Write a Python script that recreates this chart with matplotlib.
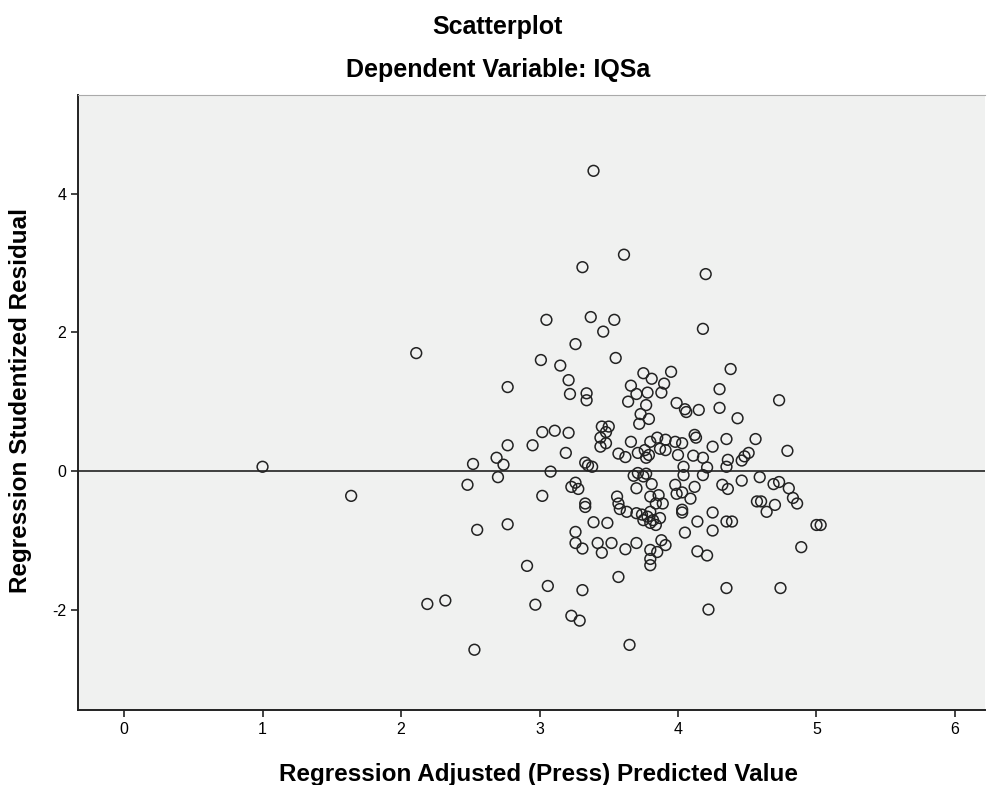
import matplotlib
matplotlib.use("Agg")
import matplotlib.pyplot as plt

plt.rcParams['font.family'] = ['Liberation Sans', 'DejaVu Sans']
plt.rcParams['axes.unicode_minus'] = False

# Regression Adjusted (Press) Predicted Value vs Regression Studentized Residual
pred = [
    1.00, 1.64, 2.11, 2.52, 2.48, 2.69, 2.74, 2.70, 2.77, 2.77, 2.55, 2.77, 2.19, 2.32, 2.53,
    3.39, 3.31, 3.61, 4.20, 3.05, 3.37, 3.54, 3.46, 4.18, 3.26,
    3.01, 3.15, 3.21, 3.22, 3.34, 3.34, 3.02, 3.11, 3.21, 2.95, 3.19, 3.33, 3.35, 3.08,
    3.26, 3.23, 3.28, 3.02, 3.33, 3.33, 3.26, 3.26, 3.31, 2.91, 3.06, 3.31, 2.97, 3.23, 3.29,
    3.65,
    3.55, 3.75, 3.81, 3.95, 3.66, 3.70, 3.78, 3.90, 3.88, 3.64, 3.77, 3.73, 3.79, 3.72,
    3.45, 3.50, 3.48, 3.44, 3.48, 3.44, 3.66, 3.80, 3.85, 3.91, 3.57, 3.62, 3.71, 3.76,
    3.79, 3.77, 3.87, 3.91, 3.38, 3.71, 3.77,
    3.68, 3.75, 3.81, 3.70, 3.56, 3.57, 3.58, 3.63, 3.80, 3.86, 3.89, 3.84, 3.70, 3.74,
    3.78, 3.80, 3.75, 3.82, 3.84, 3.80, 3.87, 3.39, 3.49, 3.88, 3.91, 3.42, 3.45, 3.52,
    3.62, 3.70, 3.80, 3.85, 3.80, 3.80, 3.57,
    4.38, 4.30, 3.99, 4.05, 4.06, 4.15, 4.30, 4.43, 4.12, 4.13, 4.35, 4.56, 4.03, 4.00,
    4.11, 4.25, 4.18, 4.36, 4.51, 4.48, 4.46, 4.04, 4.21, 4.35, 3.98,
    4.04, 3.98, 3.99, 4.03, 4.12, 4.18, 4.32, 4.36, 4.46, 4.09, 4.03, 4.03, 4.25, 4.14,
    4.25, 4.35, 4.39, 4.05, 4.14, 4.21, 4.35, 4.22, 4.57,
    4.73, 4.79, 4.59, 4.73, 4.69, 4.80, 4.83, 4.86, 4.60, 4.70, 4.64, 5.00, 5.03, 4.89, 4.74,
]
resid = [
    0.06, -0.36, 1.70, 0.10, -0.20, 0.19, 0.09, -0.09, 1.21, 0.37, -0.85, -0.77, -1.92, -1.87, -2.58,
    4.33, 2.94, 3.12, 2.84, 2.18, 2.22, 2.18, 2.01, 2.05, 1.83,
    1.60, 1.52, 1.31, 1.11, 1.12, 1.02, 0.56, 0.58, 0.55, 0.37, 0.26, 0.12, 0.08, -0.01,
    -0.17, -0.23, -0.26, -0.36, -0.47, -0.52, -0.88, -1.04, -1.12, -1.37, -1.66, -1.72, -1.93, -2.09, -2.16,
    -2.51,
    1.63, 1.41, 1.33, 1.43, 1.23, 1.11, 1.13, 1.26, 1.13, 1.00, 0.95, 0.82, 0.75, 0.68,
    0.64, 0.64, 0.56, 0.48, 0.40, 0.35, 0.42, 0.42, 0.48, 0.45, 0.25, 0.20, 0.26, 0.30,
    0.23, 0.19, 0.32, 0.30, 0.06, -0.03, -0.04,
    -0.07, -0.08, -0.19, -0.25, -0.37, -0.47, -0.55, -0.59, -0.37, -0.35, -0.47, -0.47, -0.61, -0.63,
    -0.66, -0.59, -0.71, -0.71, -0.78, -0.75, -0.68, -0.74, -0.75, -1.00, -1.07, -1.04, -1.18, -1.04,
    -1.13, -1.04, -1.14, -1.17, -1.27, -1.36, -1.53,
    1.47, 1.18, 0.98, 0.89, 0.85, 0.88, 0.91, 0.76, 0.52, 0.48, 0.46, 0.46, 0.40, 0.23,
    0.22, 0.35, 0.19, 0.16, 0.26, 0.21, 0.15, 0.06, 0.05, 0.06, 0.42,
    -0.06, -0.20, -0.33, -0.31, -0.23, -0.06, -0.20, -0.26, -0.14, -0.40, -0.56, -0.60, -0.60, -0.73,
    -0.86, -0.73, -0.73, -0.89, -1.16, -1.22, -1.69, -2.00, -0.44,
    1.02, 0.29, -0.09, -0.16, -0.19, -0.25, -0.39, -0.47, -0.44, -0.49, -0.59, -0.78, -0.78, -1.10, -1.69,
]

x_ticks = [0, 1, 2, 3, 4, 5, 6]
y_ticks = [-2, 0, 2, 4]

fig = plt.figure(figsize=(9.88, 7.85), dpi=100)
ax = fig.add_axes([0.079, 0.0955, 0.918, 0.784])
ax.set_facecolor('#f0f1f0')

ax.axhline(0, color='#222222', linewidth=1.2, zorder=1)
ax.scatter(pred, resid, s=60, facecolors='none', edgecolors='#222222',
           linewidths=1.1, zorder=2)

ax.set_xlim(-0.332, 6.217)
ax.set_ylim(-3.45, 5.43)
ax.set_xticks(x_ticks)
ax.set_yticks(y_ticks)
ax.tick_params(direction='out', length=5, width=1.2, labelsize=11.5, color='#222222')

ax.spines['left'].set_color('#222222')
ax.spines['bottom'].set_color('#222222')
ax.spines['left'].set_linewidth(1.4)
ax.spines['bottom'].set_linewidth(1.4)
ax.spines['top'].set_color('#aaaaaa')
ax.spines['right'].set_visible(False)

fig.text(0.504, 0.966, 'Scatterplot', ha='center', va='center',
         fontsize=18, fontweight='bold')
fig.text(0.504, 0.911, 'Dependent Variable: IQSa', ha='center', va='center',
         fontsize=18, fontweight='bold')
fig.text(0.545, 0.013, 'Regression Adjusted (Press) Predicted Value', ha='center',
         va='center', fontsize=17.5, fontweight='bold')
fig.text(0.021, 0.49, 'Regression Studentized Residual', ha='center', va='center',
         rotation=90, fontsize=17.5, fontweight='bold')

fig.savefig('out.png', dpi=100)
